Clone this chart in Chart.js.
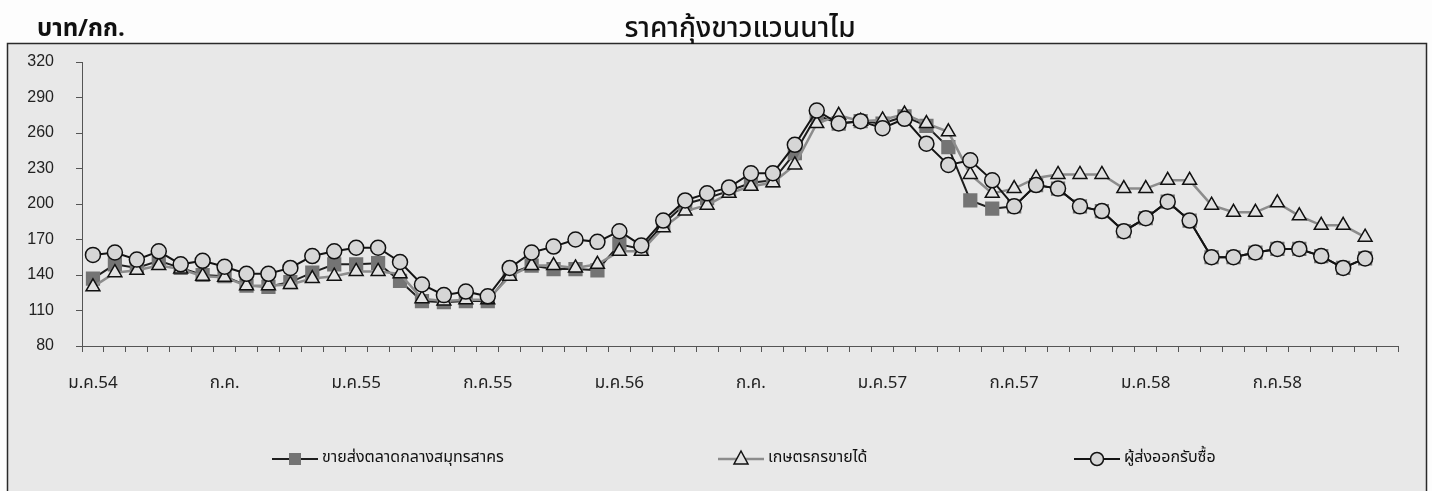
<!DOCTYPE html>
<html>
<head>
<meta charset="utf-8">
<title>ราคากุ้งขาวแวนนาไม</title>
<script src="https://cdn.jsdelivr.net/npm/chart.js@4.4.0/dist/chart.umd.min.js"></script>
<style>
  html, body { margin: 0; padding: 0; background: #fdfdfd; }
  #wrap { width: 1432px; height: 491px; }
</style>
</head>
<body>
<div id="wrap"><canvas id="shrimpChart" width="1432" height="491"></canvas></div>
<script>
// ===== ข้อมูล (ม.ค.54 – ธ.ค.58, รายเดือน) =====
const monthNames = ["ม.ค.", "ก.พ.", "มี.ค.", "เม.ย.", "พ.ค.", "มิ.ย.", "ก.ค.", "ส.ค.", "ก.ย.", "ต.ค.", "พ.ย.", "ธ.ค."];
const years = ["54", "55", "56", "57", "58"];
const tickLabels = ["ม.ค.54", "ก.ค.", "ม.ค.55", "ก.ค.55", "ม.ค.56", "ก.ค.", "ม.ค.57", "ก.ค.57", "ม.ค.58", "ก.ค.58"];

const seriesNames = ["ขายส่งตลาดกลางสมุทรสาคร", "เกษตรกรขายได้", "ผู้ส่งออกรับซื้อ"];

const wholesalePrice = [
  137, 149, 146, 152, 146, 140, 139, 131, 130, 134, 142, 149,
  149, 150, 135, 118, 117, 118, 118, 141, 148, 145, 145, 144,
  166, 162, 183, 200, 205, 211, 218, 220, 243, 275, 268, 270,
  268, 274, 266, 248, 203, 196, 198, 216, 213, 198, 194, 177,
  188, 202, 186, 155, 155, 159, 162, 162, 156, 146, 154
];
const farmerPrice = [
  130, 142, 144, 148, 145, 139, 138, 131, 131, 132, 137, 139,
  143, 143, 141, 120, 118, 119, 119, 139, 148, 148, 146, 149,
  160, 160, 180, 194, 199, 209, 215, 218, 233, 268, 275, 270,
  271, 276, 268, 261, 225, 209, 213, 222, 225, 225, 225, 213,
  213, 220, 220, 199, 193, 193, 201, 190, 182, 182, 172
];
const exporterPrice = [
  157, 159, 153, 160, 149, 152, 147, 141, 141, 146, 156, 160,
  163, 163, 151, 132, 123, 126, 122, 146, 159, 164, 170, 168,
  177, 165, 186, 203, 209, 214, 226, 226, 250, 279, 268, 270,
  264, 272, 251, 233, 237, 220, 198, 216, 213, 198, 194, 177,
  188, 202, 186, 155, 155, 159, 162, 162, 156, 146, 154
];

const categories = [];
years.forEach((y) => monthNames.forEach((m) => categories.push(m + y)));

// ===== สไตล์ =====
const thaiFont = "'Noto Sans Thai', 'Noto Serif Thai', 'Loma', 'Garuda', 'Noto Sans', sans-serif";
const frameBg = "#e8e8e8";

const seriesStyle = [
  { line: "#1e1e1e", width: 2, point: "rect", fill: "#747474", stroke: "#747474", radius: 9 },
  { line: "#8c8c8c", width: 2.5, point: "triangle", fill: "#e2e2e2", stroke: "#111", radius: 8 },
  { line: "#141414", width: 2, point: "circle", fill: "#d6d6d6", stroke: "#111", radius: 7.5 },
];

// ===== กรอบ หัวเรื่อง และคำอธิบาย =====
const decorPlugin = {
  id: "decor",
  beforeDraw(chart) {
    const { ctx, chartArea } = chart;
    ctx.save();
    ctx.fillStyle = "#fdfdfd";
    ctx.fillRect(0, 0, chart.width, chart.height);
    ctx.fillStyle = frameBg;
    ctx.fillRect(7, 43, 1420, 460);
    ctx.strokeStyle = "#2a2a2a";
    ctx.lineWidth = 1.5;
    ctx.strokeRect(7.5, 43.5, 1419, 460);

    ctx.fillStyle = "#111";
    ctx.textBaseline = "middle";
    ctx.textAlign = "left";
    ctx.font = "bold 24px " + thaiFont;
    ctx.fillText("บาท/กก.", 37, 31);

    ctx.textAlign = "center";
    ctx.font = "500 28px " + thaiFont;
    ctx.fillText("ราคากุ้งขาวแวนนาไม", (chartArea.left + chartArea.right) / 2, 31);
    ctx.restore();
  },
  afterDraw(chart) {
    const { ctx } = chart;
    const legendX = [272, 718, 1074];
    const y = 459;
    ctx.save();
    seriesStyle.forEach((s, i) => {
      const x0 = legendX[i];
      ctx.strokeStyle = s.line;
      ctx.lineWidth = s.width;
      ctx.beginPath();
      ctx.moveTo(x0, y);
      ctx.lineTo(x0 + 46, y);
      ctx.stroke();
      const cx = x0 + 23;
      ctx.fillStyle = s.fill;
      ctx.strokeStyle = s.stroke;
      ctx.lineWidth = 1.5;
      ctx.beginPath();
      if (s.point === "rect") {
        ctx.rect(cx - 6, y - 6, 12, 12);
        ctx.fill();
      } else if (s.point === "triangle") {
        ctx.moveTo(cx, y - 8);
        ctx.lineTo(cx - 7, y + 5);
        ctx.lineTo(cx + 7, y + 5);
        ctx.closePath();
        ctx.fill();
        ctx.stroke();
      } else {
        ctx.arc(cx, y, 6.5, 0, Math.PI * 2);
        ctx.fill();
        ctx.stroke();
      }
      ctx.fillStyle = "#111";
      ctx.font = "16px " + thaiFont;
      ctx.textAlign = "left";
      ctx.textBaseline = "middle";
      ctx.fillText(seriesNames[i], x0 + 50, y);
    });
    ctx.restore();
  },
};

const seriesData = [wholesalePrice, farmerPrice, exporterPrice];
const datasets = seriesData.map((values, i) => ({
  label: seriesNames[i],
  data: values,
  borderColor: seriesStyle[i].line,
  borderWidth: seriesStyle[i].width,
  pointStyle: seriesStyle[i].point,
  pointRadius: seriesStyle[i].radius,
  pointHoverRadius: seriesStyle[i].radius,
  pointBackgroundColor: seriesStyle[i].fill,
  pointBorderColor: seriesStyle[i].stroke,
  pointBorderWidth: 1.5,
  tension: 0,
  fill: false,
  order: 3 - i,
}));

const ctx = document.getElementById("shrimpChart").getContext("2d");
new Chart(ctx, {
  type: "line",
  data: { labels: categories, datasets },
  plugins: [decorPlugin],
  options: {
    responsive: false,
    animation: false,
    devicePixelRatio: 1,
    layout: { padding: { left: 0, top: 62, right: 34, bottom: 0 } },
    plugins: {
      legend: { display: false },
      title: { display: false },
      tooltip: { enabled: false },
    },
    scales: {
      x: {
        offset: true,
        afterFit: (s) => { s.height = 145; },
        grid: { offset: true, drawOnChartArea: false, tickLength: 6, color: "#555" },
        border: { display: true, color: "#555", width: 1 },
        ticks: {
          autoSkip: false,
          maxRotation: 0,
          padding: 22,
          color: "#222",
          font: { family: thaiFont, size: 17 },
          callback: (v, idx) => (idx % 6 === 0 ? tickLabels[idx / 6] : ""),
        },
      },
      y: {
        min: 80,
        max: 320,
        afterFit: (s) => { s.width = 82; },
        grid: { drawOnChartArea: false, tickLength: 6, color: "#555" },
        border: { display: true, color: "#555", width: 1 },
        ticks: {
          stepSize: 30,
          padding: 22,
          color: "#222",
          font: { family: "Arial, 'Liberation Sans', sans-serif", size: 16 },
        },
      },
    },
  },
});
</script>
</body>
</html>
